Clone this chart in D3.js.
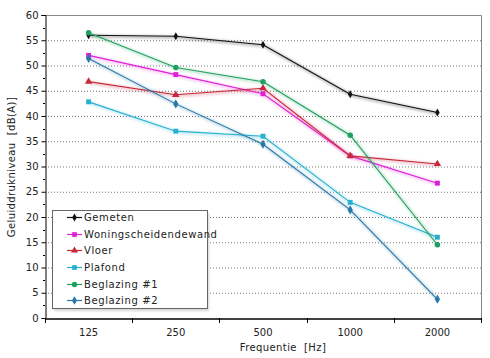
<!DOCTYPE html>
<html><head><meta charset="utf-8">
<script src="https://cdn.jsdelivr.net/npm/d3@7"></script>
<style>
body{margin:0;background:#fff;}
svg{display:block;font-family:Verdana,"DejaVu Sans",sans-serif;}
text{white-space:pre;}
</style></head>
<body><svg id="c" width="490" height="358"></svg>
<script>
const categories = ["125","250","500","1000","2000"];
const seriesNames = ["Gemeten","Woningscheidendewand","Vloer","Plafond","Beglazing #1","Beglazing #2"];
const gemeten = [56.0, 55.8, 54.1, 44.3, 40.7];
const woningscheidendewand = [52.0, 48.2, 44.4, 32.1, 26.7];
const vloer = [46.8, 44.2, 45.5, 32.1, 30.5];
const plafond = [42.8, 37.0, 36.0, 22.9, 16.0];
const beglazing1 = [56.5, 49.6, 46.8, 36.2, 14.5];
const beglazing2 = [51.4, 42.4, 34.4, 21.4, 3.7];
const yTicks = [0,5,10,15,20,25,30,35,40,45,50,55,60];

const colors = ["#111111","#e020d8","#c8283a","#28b0d0","#20a060","#2878a8"];
const symbols = [d3.symbolDiamond,d3.symbolSquare,d3.symbolTriangle,d3.symbolSquare,d3.symbolCircle,d3.symbolDiamond];
const allValues = [gemeten,woningscheidendewand,vloer,plafond,beglazing1,beglazing2];

const svg = d3.select("#c");
const L=45,R=481,T=15,B=318;
const x = d3.scaleBand().domain(categories).range([L,R]);
const y = d3.scaleLinear().domain([0,60]).range([B,T]);

const defs = svg.append("defs");
const f = defs.append("filter").attr("id","glow").attr("x","-10%").attr("y","-10%").attr("width","120%").attr("height","120%");
f.append("feGaussianBlur").attr("stdDeviation",1.2);

// gridlines
svg.append("g").selectAll("line").data(yTicks.filter(d=>d>0 && d<60)).join("line")
  .attr("x1",L).attr("x2",R).attr("y1",d=>y(d)+0.5).attr("y2",d=>y(d)+0.5)
  .attr("stroke","#777").attr("stroke-dasharray","1,2").attr("stroke-width",1);

// border top/right
svg.append("path").attr("d",`M${L},${T+0.5}H${R+0.5}V${B}`).attr("fill","none").attr("stroke","#888");

// y axis
const ya = svg.append("g").attr("transform",`translate(${L+0.5},0)`)
  .call(d3.axisLeft(y).tickValues(yTicks).tickSize(4).tickPadding(3));
ya.select(".domain").attr("stroke","#000");
ya.selectAll("text").attr("font-size",10).attr("fill","#222").attr("font-family","Verdana,'DejaVu Sans',sans-serif");
// minor ticks
svg.append("g").selectAll("line").data(d3.range(2.5,60,5)).join("line")
  .attr("x1",L-2).attr("x2",L).attr("y1",d=>Math.round(y(d))+0.5).attr("y2",d=>Math.round(y(d))+0.5).attr("stroke","#000");

// x axis
const xa = svg.append("g").attr("transform",`translate(0,${B+0.5})`)
  .call(d3.axisBottom(x).tickSize(0).tickPadding(10));
xa.select(".domain").attr("stroke","#000").attr("stroke-width",1.5);
xa.selectAll("text").attr("font-size",10).attr("fill","#222").attr("font-family","Verdana,'DejaVu Sans',sans-serif");
// x ticks at band boundaries
const bounds = categories.map(c=>x(c)).concat([x(categories[categories.length-1])+x.bandwidth()]);
svg.append("g").selectAll("line").data(bounds).join("line")
  .attr("x1",d=>Math.round(d)+0.5).attr("x2",d=>Math.round(d)+0.5).attr("y1",B).attr("y2",B+5).attr("stroke","#000");

const cx = c=>x(c)+x.bandwidth()/2;
const line = d3.line().x((d,i)=>cx(categories[i])).y(d=>y(d));

allValues.forEach((vals,si)=>{
  const g = svg.append("g");
  g.append("path").attr("d",line(vals)).attr("fill","none").attr("stroke",colors[si])
    .attr("stroke-opacity",0.22).attr("stroke-width",3.5).attr("filter","url(#glow)").attr("transform","translate(1,1)");
  g.append("path").attr("d",line(vals)).attr("fill","none").attr("stroke",colors[si]).attr("stroke-width",1.1);
  g.selectAll("path.m").data(vals).join("path").attr("class","m")
    .attr("transform",(d,i)=>`translate(${cx(categories[i])},${y(d)})`)
    .attr("d",d3.symbol().type(symbols[si]).size(si===0?18:24)).attr("fill",colors[si]);
});

// legend
const lg = svg.append("g");
lg.append("rect").attr("x",54).attr("y",213).attr("width",155).attr("height",98).attr("fill","#aaa").attr("opacity",0.5).attr("filter","url(#glow)");
lg.append("rect").attr("x",52.5).attr("y",210.5).attr("width",155).attr("height",98).attr("fill","#fff").attr("stroke","#666");
const ly = [217.5,234.5,250.5,267.5,284.5,300.5];
seriesNames.forEach((n,i)=>{
  lg.append("line").attr("x1",67).attr("x2",82).attr("y1",ly[i]).attr("y2",ly[i]).attr("stroke",colors[i]).attr("stroke-width",1.2);
  lg.append("path").attr("transform",`translate(74.5,${ly[i]})`).attr("d",d3.symbol().type(symbols[i]).size(i===0?18:22)).attr("fill",colors[i]);
  lg.append("text").attr("x",84).attr("y",ly[i]+3.5).attr("font-size",10).attr("fill","#222").attr("letter-spacing","0.6").text(n);
});

// axis titles
svg.append("text").attr("transform","translate(15,167) rotate(-90)").attr("text-anchor","middle")
  .attr("font-size",10).attr("fill","#222").attr("letter-spacing","0.4").text("Geluiddrukniveau  [dB(A)]");
svg.append("text").attr("x",283).attr("y",351).attr("text-anchor","middle")
  .attr("font-size",10).attr("fill","#222").attr("letter-spacing","0.4").text("Frequentie  [Hz]");
</script></body></html>
